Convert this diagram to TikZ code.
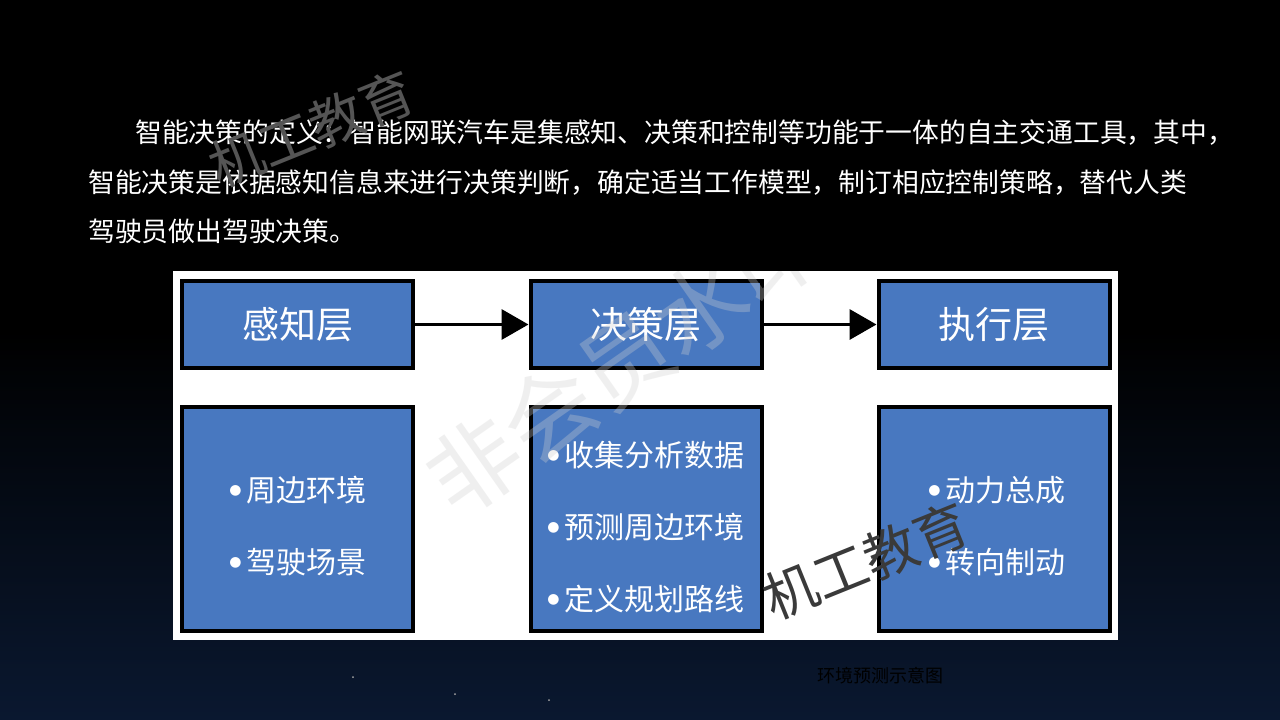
\documentclass[tikz,border=0pt]{standalone}
\usepackage{fontspec}
\setmainfont{Noto Sans CJK SC}
\newfontfamily\symfont{DejaVu Sans}
\usetikzlibrary{arrows.meta}
\definecolor{boxblue}{HTML}{4878C0}
\definecolor{navy}{HTML}{0A1830}
\definecolor{wmdark}{HTML}{3A3A3A}
\definecolor{wmtop}{HTML}{555555}
\definecolor{wmlight}{HTML}{D0D0D0}
\newcommand\itembullet{\raisebox{7pt}{\symfont\fontsize{14}{14}\selectfont ●}\hspace{5pt}}
\begin{document}
\begin{tikzpicture}[x=1pt,y=-1pt,
  layerbox/.style={draw=black, line width=4pt, fill=boxblue, minimum width=231pt, minimum height=87pt, inner sep=0pt, text=white, font=\fontsize{37}{40}\selectfont},
  listbox/.style={draw=black, line width=4pt, fill=boxblue, minimum width=231pt, minimum height=224pt, inner sep=0pt},
  itemtext/.style={text=white, font=\fontsize{30}{32}\selectfont, inner sep=0pt},
  flow/.style={line width=3.5pt, -{Triangle[length=27pt,width=30pt]}},
  para/.style={text=white, font=\fontsize{26.8}{30}\selectfont, anchor=west, inner sep=0pt},
  wmark/.style={inner sep=0pt, rotate=22},
]
% background
\useasboundingbox (0,0) rectangle (1280,720);
\fill[black] (0,0) rectangle (1280,720);
\shade[top color=black, bottom color=navy] (0,330) rectangle (1280,720);
\foreach \p in {(353,677),(455,694),(549,700)} \fill[gray!70] \p circle (1pt);

% paragraph
\node[para] (l1) at (135,133) {智能决策的定义：智能网联汽车是集感知、决策和控制等功能于一体的自主交通工具，其中，};
\node[para] (l2) at (88,183) {智能决策是依据感知信息来进行决策判断，确定适当工作模型，制订相应控制策略，替代人类};
\node[para] (l3) at (88,231) {驾驶员做出驾驶决策。};

% white panel
\fill[white] (173,271) rectangle (1118,640);

% layer boxes
\node[layerbox] (p) at (297.5,324.5) {感知层};
\node[layerbox] (d) at (646,324.5) {决策层};
\node[layerbox] (e) at (994,324.5) {执行层};
\draw[flow] (p.east) -- (d.west);
\draw[flow] (d.east) -- (e.west);

% list boxes
\node[listbox] (pl) at (297.5,519) {};
\node[listbox] (dl) at (646,519) {};
\node[listbox] (el) at (994,519) {};

\node[itemtext] (p1) at (298,490) {\itembullet 周边环境};
\node[itemtext] (p2) at (298,562) {\itembullet 驾驶场景};
\node[itemtext] (d1) at (646,455) {\itembullet 收集分析数据};
\node[itemtext] (d2) at (646,527) {\itembullet 预测周边环境};
\node[itemtext] (d3) at (646,599) {\itembullet 定义规划路线};
\node[itemtext] (e1) at (997,490) {\itembullet 动力总成};
\node[itemtext] (e2) at (997,562) {\itembullet 转向制动};

% watermark clipped to panel
\begin{scope}
\clip (173,271) rectangle (1118,640);
\node[inner sep=0pt, rotate=35, text=wmlight, opacity=0.32, font=\fontsize{92}{92}\selectfont] (wm1) at (625,360) {非会员水印};
\end{scope}

\node[wmark, text=wmdark, font=\fontsize{54}{54}\selectfont] (wm2) at (866,561) {机工教育};
\node[wmark, text=wmtop, font=\fontsize{54}{54}\selectfont] (wm3) at (312,129) {机工教育};

% caption
\node[inner sep=0pt, text=black, font=\fontsize{18}{20}\selectfont] (cap) at (880,676) {环境预测示意图};
\end{tikzpicture}
\end{document}
